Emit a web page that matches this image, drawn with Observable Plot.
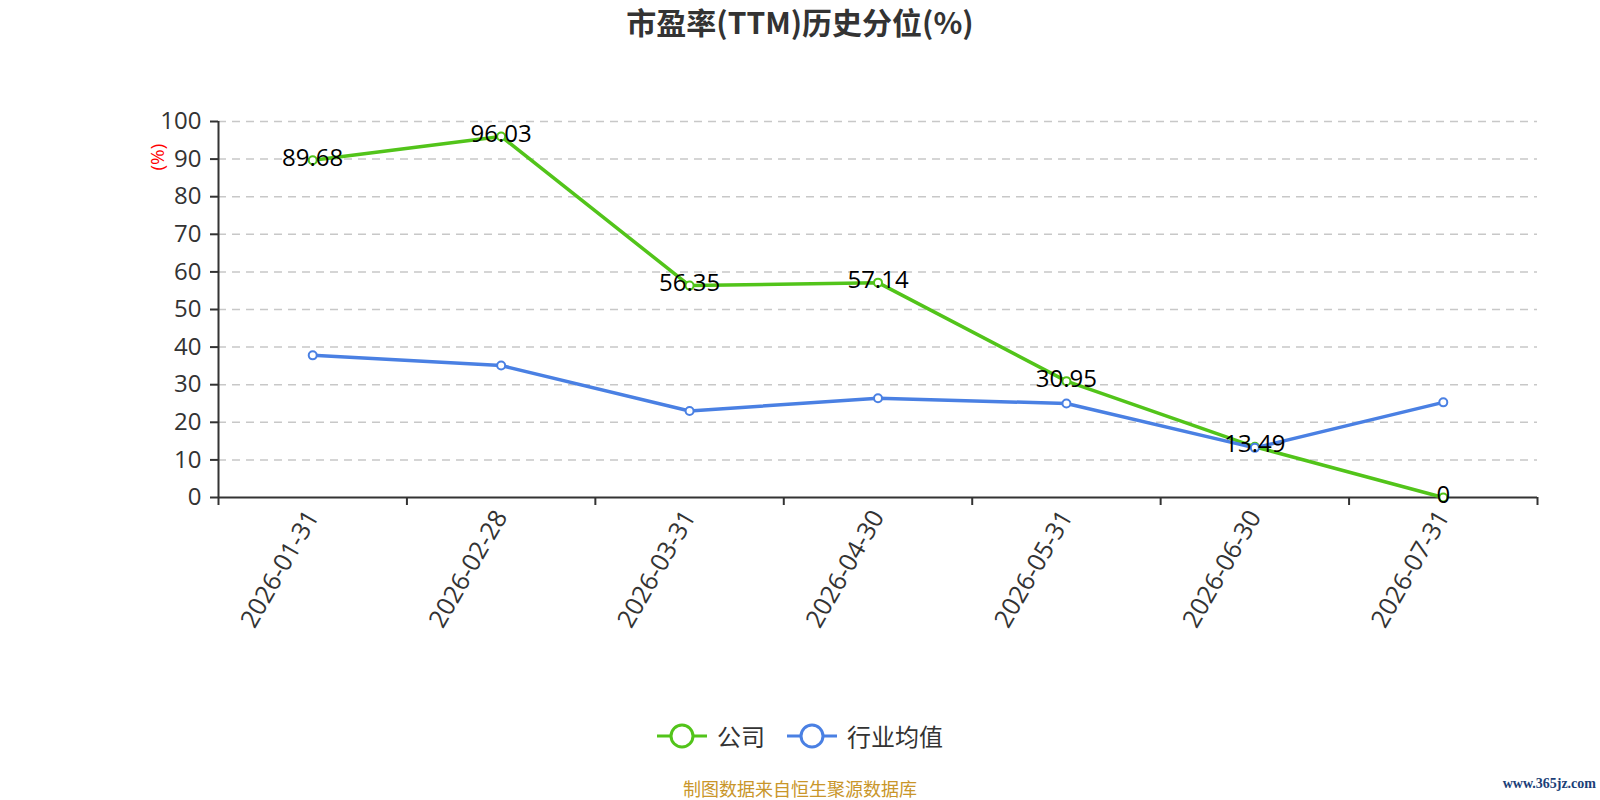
<!DOCTYPE html>
<html>
<head>
<meta charset="utf-8">
<script src="https://cdn.jsdelivr.net/npm/d3@7"></script>
<script src="https://cdn.jsdelivr.net/npm/@observablehq/plot@0.6"></script>
<style>
  html, body { margin: 0; padding: 0; background: #fff; }
  #wrap { position: relative; width: 1600px; height: 800px; overflow: hidden; font-family: "Open Sans", "Noto Sans CJK SC", sans-serif; }
  #title { position: absolute; left: 0; top: 2px; width: 1600px; text-align: center; font: bold 30px "Noto Sans CJK SC", "Open Sans", sans-serif; color: #333; line-height: 38px; }
  #chart { position: absolute; left: 0; top: 0; }
  #legend { position: absolute; left: 0; top: 718px; width: 1600px; display: flex; justify-content: center; align-items: center; font: 24px "Noto Sans CJK SC", sans-serif; color: #333; }
  .item { display: flex; align-items: center; margin: 0 11px; }
  .item svg { margin-right: 10px; }
  #caption { position: absolute; left: 0; top: 777px; width: 1600px; text-align: center; font: 18px "Noto Sans CJK SC", sans-serif; color: #c9962a; line-height: 22px; }
  #mark { position: absolute; right: 4px; top: 773px; font: bold 14px "Liberation Serif", "DejaVu Serif", serif; color: #1c3f78; line-height: 22px; }
</style>
</head>
<body>
<div id="wrap">
  <div id="chart"></div>
  <div id="title">市盈率(TTM)历史分位(%)</div>
  <div id="legend"></div>
  <div id="caption">制图数据来自恒生聚源数据库</div>
  <div id="mark">www.365jz.com</div>
</div>
<script>
const dates = ["2026-01-31", "2026-02-28", "2026-03-31", "2026-04-30", "2026-05-31", "2026-06-30", "2026-07-31"];
const company = [89.68, 96.03, 56.35, 57.14, 30.95, 13.49, 0];
const industry = [37.8, 35.1, 23.0, 26.4, 25.0, 13.2, 25.3];
const seriesNames = ["公司", "行业均值"];
const colors = ["#52c41a", "#4a80e3"];
const yTicks = d3.range(0, 101, 10);

const compData = company.map((v, i) => ({i, v}));
const indData = industry.map((v, i) => ({i, v}));

const chart = Plot.plot({
  width: 1600,
  height: 660,
  marginLeft: 218,
  marginRight: 63,
  marginTop: 121,
  marginBottom: 163,
  style: { fontFamily: "'Open Sans', 'Noto Sans CJK SC', sans-serif", fontSize: "24px", color: "#333", background: "#fff" },
  x: { type: "linear", domain: [-0.5, dates.length - 0.5] },
  y: { domain: [0, 100] },
  marks: [
    Plot.gridY(yTicks.filter(d => d > 0), { stroke: "#c8c8c8", strokeOpacity: 1, strokeWidth: 1.5, strokeDasharray: "8,6" }),
    Plot.axisY({ ticks: yTicks, tickSize: 8, tickPadding: 9, tickFormat: d => String(d), fontSize: 24, fill: "#333", stroke: "#333", strokeWidth: 2, label: null }),
    Plot.axisX({ ticks: d3.range(-0.5, dates.length, 1), tickSize: 8, tickFormat: () => "", stroke: "#333", strokeWidth: 2, label: null }),
    Plot.axisX({ ticks: d3.range(dates.length), tickSize: 0, tickPadding: 15, tickRotate: -60, tickFormat: i => dates[i], fontSize: 25, fill: "#333", label: null }),
    Plot.ruleX([-0.5], { stroke: "#333", strokeWidth: 2 }),
    Plot.ruleY([0], { stroke: "#333", strokeWidth: 2 }),
    Plot.text(["(%)"], { frameAnchor: "top-left", dx: -68, dy: 49, rotate: -90, fill: "red", fontSize: 19 }),
    Plot.line(compData, { x: "i", y: "v", stroke: colors[0], strokeWidth: 3.5 }),
    Plot.line(indData, { x: "i", y: "v", stroke: colors[1], strokeWidth: 3.5 }),
    Plot.dot(compData, { x: "i", y: "v", r: 4, fill: "#fff", stroke: colors[0], strokeWidth: 2 }),
    Plot.dot(indData, { x: "i", y: "v", r: 4, fill: "#fff", stroke: colors[1], strokeWidth: 2 }),
    Plot.text(compData, { x: "i", y: "v", text: d => String(d.v), fill: "#000", fontSize: 24, dy: -2 })
  ]
});
document.getElementById("chart").appendChild(chart);

const legend = document.getElementById("legend");
seriesNames.forEach((name, k) => {
  const item = document.createElement("div");
  item.className = "item";
  item.innerHTML = `<svg width="50" height="26"><line x1="0" y1="13" x2="50" y2="13" stroke="${colors[k]}" stroke-width="3"/><circle cx="25" cy="13" r="11" fill="#fff" stroke="${colors[k]}" stroke-width="3"/></svg><span>${name}</span>`;
  legend.appendChild(item);
});
</script>
</body>
</html>
